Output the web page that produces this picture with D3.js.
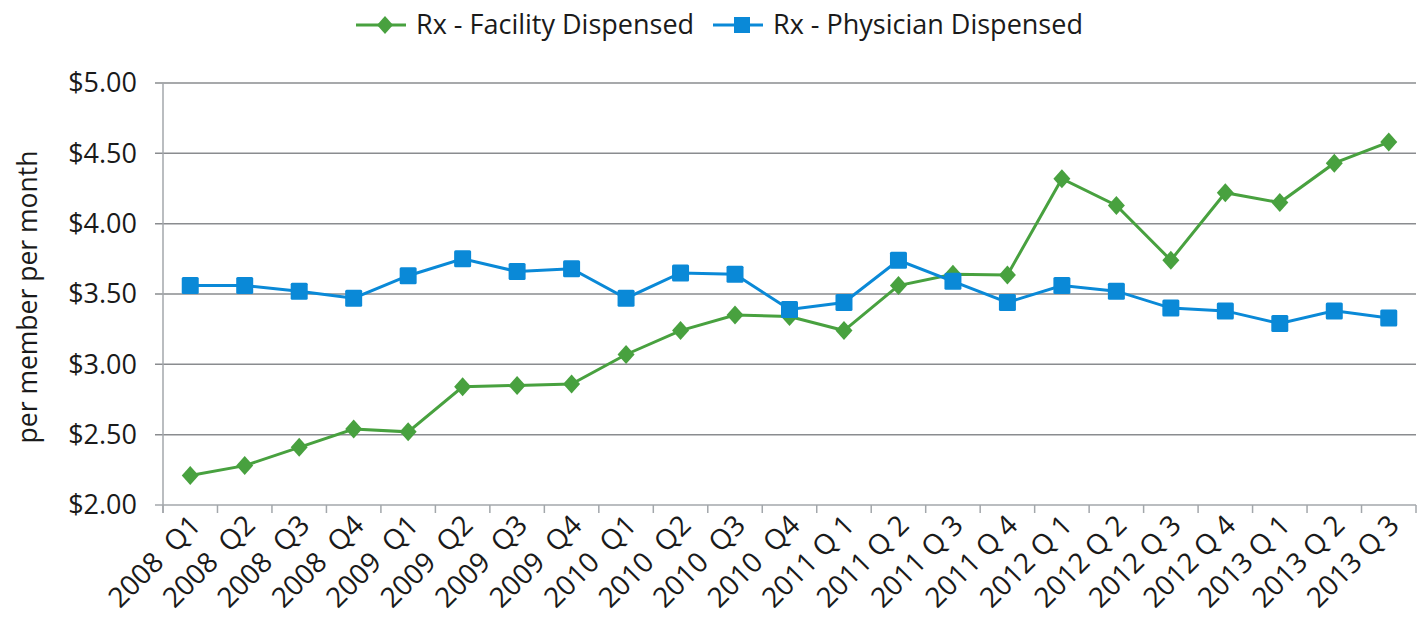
<!DOCTYPE html>
<html>
<head>
<meta charset="utf-8">
<script src="https://cdn.jsdelivr.net/npm/d3@7"></script>
<style>
body { margin: 0; background: #fff; }
text { font-family: "Open Sans", "Noto Sans", sans-serif; fill: #1a1a1a; }
</style>
</head>
<body>
<svg width="1424" height="632"></svg>
<script>
var quarters = ["2008  Q1","2008  Q2","2008  Q3","2008  Q4","2009  Q1","2009  Q2","2009  Q3","2009  Q4",
  "2010  Q1","2010  Q2","2010  Q3","2010  Q4","2011 Q 1","2011 Q 2","2011 Q 3","2011 Q 4",
  "2012 Q 1","2012 Q 2","2012 Q 3","2012 Q 4","2013 Q 1","2013 Q 2","2013 Q 3"];
var facility = [2.21,2.28,2.41,2.54,2.52,2.84,2.85,2.86,3.07,3.24,3.35,3.34,3.24,3.56,3.64,3.635,4.32,4.13,3.74,4.22,4.15,4.43,4.58];
var physician = [3.56,3.56,3.52,3.47,3.63,3.75,3.66,3.68,3.47,3.65,3.64,3.39,3.44,3.74,3.59,3.44,3.56,3.52,3.40,3.38,3.29,3.38,3.33];
var yTicks = [2.0,2.5,3.0,3.5,4.0,4.5,5.0];
var seriesNames = ["Rx - Facility Dispensed","Rx - Physician Dispensed"];

var green = "#48a13f", blue = "#0a89d7";

var svg = d3.select("svg");
var plotLeft = 163, plotRight = 1416, plotTop = 83, plotBottom = 505;

var x = d3.scaleBand().domain(quarters).range([plotLeft, plotRight]);
var y = d3.scaleLinear().domain([2, 5]).range([plotBottom, plotTop]);

// gridlines
svg.append("g").selectAll("line")
    .data(yTicks)
    .enter().append("line")
    .attr("x1", plotLeft - 8).attr("x2", plotRight)
    .attr("y1", function(d) { return y(d); })
    .attr("y2", function(d) { return y(d); })
    .attr("stroke", function(d) { return d == 2 ? "#a3a7ab" : "#8a8c8f"; })
    .attr("stroke-width", 1.5);

// y axis line
svg.append("line")
    .attr("x1", plotLeft).attr("x2", plotLeft).attr("y1", plotTop).attr("y2", plotBottom + 8)
    .attr("stroke", "#a3a7ab").attr("stroke-width", 1.5);

// x ticks
svg.append("g").selectAll("line")
    .data(quarters.concat(["end"]))
    .enter().append("line")
    .attr("x1", function(d, i) { return plotLeft + i * x.bandwidth(); })
    .attr("x2", function(d, i) { return plotLeft + i * x.bandwidth(); })
    .attr("y1", plotBottom).attr("y2", plotBottom + 8)
    .attr("stroke", "#a3a7ab").attr("stroke-width", 1.5);

// y tick labels
svg.append("g").selectAll("text")
    .data(yTicks)
    .enter().append("text")
    .attr("x", 137)
    .attr("y", function(d) { return y(d); })
    .attr("dy", "0.35em")
    .attr("text-anchor", "end")
    .style("font-size", "27px")
    .text(function(d) { return "$" + d.toFixed(2); });

// x tick labels
svg.append("g").selectAll("text")
    .data(quarters)
    .enter().append("text")
    .attr("text-anchor", "end")
    .attr("xml:space", "preserve")
    .style("white-space", "pre")
    .style("font-size", "28px")
    .attr("transform", function(d) {
        return "translate(" + (x(d) + x.bandwidth() / 2 + 12) + "," + (plotBottom + 22) + ") rotate(-45)";
    })
    .text(function(d) { return d; });

// y title
svg.append("text")
    .attr("transform", "translate(37," + ((plotTop + plotBottom) / 2 + 3) + ") rotate(-90)")
    .attr("text-anchor", "middle")
    .style("font-size", "26.5px")
    .text("per member per month");

var line = d3.line()
    .x(function(d, i) { return x(quarters[i]) + x.bandwidth() / 2; })
    .y(function(d) { return y(d); });

// facility
svg.append("path").datum(facility)
    .attr("d", line).attr("fill", "none")
    .attr("stroke", green).attr("stroke-width", 3);
// physician
svg.append("path").datum(physician)
    .attr("d", line).attr("fill", "none")
    .attr("stroke", blue).attr("stroke-width", 3);

svg.append("g").selectAll("path")
    .data(facility)
    .enter().append("path")
    .attr("d", "M0,-9.5L8.5,0L0,9.5L-8.5,0Z")
    .attr("transform", function(d, i) {
        return "translate(" + (x(quarters[i]) + x.bandwidth() / 2) + "," + y(d) + ")";
    })
    .attr("fill", green);

svg.append("g").selectAll("rect")
    .data(physician)
    .enter().append("rect")
    .attr("x", function(d, i) { return x(quarters[i]) + x.bandwidth() / 2 - 8.5; })
    .attr("y", function(d) { return y(d) - 8.5; })
    .attr("width", 17).attr("height", 17)
    .attr("rx", 1.5)
    .attr("fill", blue);

// legend
var legend = svg.append("g");
var leg = [
    {name: seriesNames[0], color: green, x0: 356, shape: "diamond"},
    {name: seriesNames[1], color: blue, x0: 713, shape: "square"}
];
leg.forEach(function(l) {
    var cy = 25;
    legend.append("line")
        .attr("x1", l.x0).attr("x2", l.x0 + 50)
        .attr("y1", cy).attr("y2", cy)
        .attr("stroke", l.color).attr("stroke-width", 3);
    if (l.shape == "diamond") {
        legend.append("path")
            .attr("d", "M0,-9L8,0L0,9L-8,0Z")
            .attr("transform", "translate(" + (l.x0 + 29) + "," + cy + ")")
            .attr("fill", l.color);
    } else {
        legend.append("rect")
            .attr("x", l.x0 + 21).attr("y", cy - 8)
            .attr("width", 16).attr("height", 16)
            .attr("fill", l.color);
    }
    legend.append("text")
        .attr("x", l.x0 + 60).attr("y", cy)
        .attr("dy", "0.35em")
        .style("font-size", "27px")
        .text(l.name);
});
</script>
</body>
</html>
